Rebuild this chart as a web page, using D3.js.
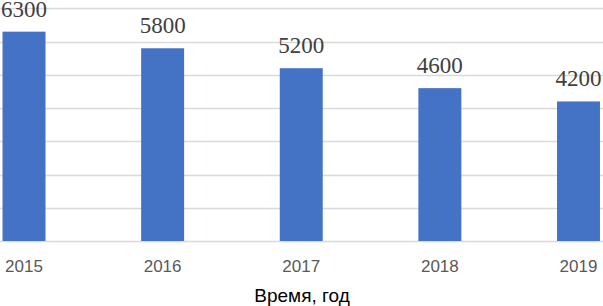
<!DOCTYPE html>
<html><head><meta charset="utf-8">
<script src="https://cdn.jsdelivr.net/npm/d3@7"></script>
<style>body{margin:0;background:#fff}svg{display:block}
.vlab{font-family:"Liberation Serif","Times New Roman",serif;}
</style>
</head><body>
<script>
const years = ["2015","2016","2017","2018","2019"];
const values = [6300, 5800, 5200, 4600, 4200];
const gridTicks = [0,1000,2000,3000,4000,5000,6000,7000];
const axisTitle = "Время, год";

const W = 603, H = 306;
const svg = d3.select("body").append("svg").attr("width", W).attr("height", H);

const x = d3.scaleBand().domain(years).range([-45.3, 647.8]).paddingInner(0.69).paddingOuter(0.345);
const y = d3.scaleLinear().domain([0, 7000]).range([241, 8.4]);

svg.append("g").selectAll("line").data(gridTicks).join("line")
  .attr("x1", 0).attr("x2", W)
  .attr("y1", d => Math.round(y(d)) + 0.5).attr("y2", d => Math.round(y(d)) + 0.5)
  .attr("stroke", "#d9d9d9").attr("stroke-width", 1.3);

svg.append("g").selectAll("rect").data(values).join("rect")
  .attr("x", (d,i) => x(years[i]))
  .attr("width", x.bandwidth())
  .attr("y", d => y(d))
  .attr("height", d => y(0) - y(d))
  .attr("fill", "#4472C4");

svg.append("g").selectAll("text").data(values).join("text")
  .attr("class", "vlab")
  .attr("x", (d,i) => x(years[i]) + x.bandwidth()/2)
  .attr("y", d => y(d) - 15)
  .attr("text-anchor", "middle")
  .attr("font-size", 23)
  .attr("fill", "#404040")
  .text(d => d);

svg.append("g").selectAll("text").data(years).join("text")
  .attr("x", d => x(d) + x.bandwidth()/2)
  .attr("y", 272)
  .attr("text-anchor", "middle")
  .attr("font-family", "'Liberation Sans', Arial, sans-serif")
  .attr("font-size", 17)
  .attr("fill", "#595959")
  .text(d => d);

svg.append("text")
  .attr("x", 302).attr("y", 302)
  .attr("text-anchor", "middle")
  .attr("font-family", "'Liberation Sans', Arial, sans-serif")
  .attr("font-size", 19)
  .attr("fill", "#000")
  .text(axisTitle);
</script>
</body></html>
